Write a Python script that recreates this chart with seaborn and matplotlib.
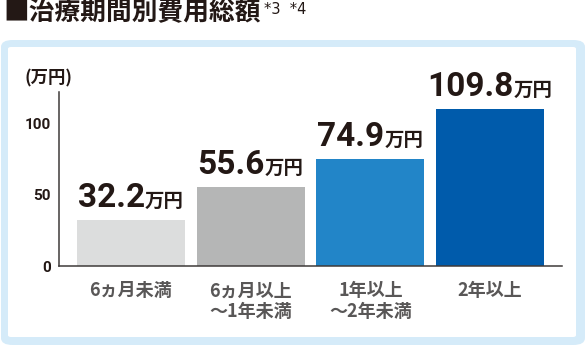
import matplotlib
matplotlib.use("Agg")
import matplotlib.pyplot as plt
import matplotlib.patches as mpatches
import matplotlib.transforms as mtransforms
import seaborn as sns
import pandas as pd

# --- data -------------------------------------------------------------
categories = ["6ヵ月未満", "6ヵ月以上\n～1年未満", "1年以上\n～2年未満", "2年以上"]
costs = [32.2, 55.6, 74.9, 109.8]          # 万円
bar_colors = ["#dcdddd", "#b5b6b6", "#2285c8", "#005bab"]
y_ticks = [0, 50, 100]
title_text = "■治療期間別費用総額"
title_note = "*3  *4"
unit_axis = "(万円)"
unit_value = "万円"

sns.set_theme(style="white")
plt.rcParams["font.family"] = ["Noto Sans CJK JP", "DejaVu Sans"]

DARK = "#231815"
GREY = "#595757"
FRAME = "#d5ebf9"

W, H = 586, 346
fig = plt.figure(figsize=(W / 100, H / 100), dpi=100)
fig.patch.set_facecolor("white")

# rounded light-blue frame with white inner panel (behind the axes)
outer = mpatches.FancyBboxPatch((1 / W, 1 - 345 / H), 584 / W, 305 / H,
                                boxstyle="round,pad=0,rounding_size=0.02",
                                transform=fig.transFigure, facecolor=FRAME,
                                edgecolor="none", zorder=-10)
inner = mpatches.FancyBboxPatch((8 / W, 1 - 337 / H), 568 / W, 290 / H,
                                boxstyle="round,pad=0,rounding_size=0.005",
                                transform=fig.transFigure, facecolor="white",
                                edgecolor="none", zorder=-9)
fig.patches.extend([outer, inner])

# title
t = fig.text(3 / W, 1 - 13 / H, title_text, fontsize=18.5, fontweight="bold",
             color=DARK, va="center", ha="left")
fig.canvas.draw()
r = fig.canvas.get_renderer()
bb = t.get_window_extent(r)
fig.text((bb.x1 + 4) / W, 1 - 9 / H, title_note, fontsize=10.5, color=DARK,
         va="center", ha="left", family=["DejaVu Sans"])

# axes
ax = fig.add_axes([59 / W, 80 / H, 503 / W, 174 / H])
ax.set_zorder(1)
ax.set_facecolor("none")
df = pd.DataFrame({"category": categories, "cost": costs})
sns.barplot(data=df, x="category", y="cost", hue="category",
            palette=bar_colors, legend=False, width=0.9, ax=ax,
            saturation=1, edgecolor="none")

ax.set_xlim(-0.6, len(categories) - 0.4)
ax.set_ylim(0, 121.7)
ax.set_yticks(y_ticks)
ax.set_yticklabels([str(v) for v in y_ticks], fontsize=11, fontweight="bold",
                   color=DARK, family=["Roboto", "DejaVu Sans"])
ax.tick_params(axis="y", length=0, pad=6)
ax.tick_params(axis="x", length=0, pad=11)
for lab in ax.get_xticklabels():
    lab.set_fontsize(13)
    lab.set_color(GREY)
    lab.set_fontweight("bold")
    lab.set_linespacing(1.1)
ax.set_xlabel("")
ax.set_ylabel("")
for s in ["top", "right"]:
    ax.spines[s].set_visible(False)
for s in ["left", "bottom"]:
    ax.spines[s].set_color("#3e3a39")
    ax.spines[s].set_linewidth(1.1)

fig.text(24 / W, 1 - 78 / H, unit_axis, fontsize=12.5, fontweight="bold",
         color=DARK, va="center", ha="left")

# value labels: big number plus smaller unit, centred over each bar
fig.canvas.draw()
r = fig.canvas.get_renderer()
for i, v in enumerate(costs):
    num = ax.text(i, v, f"{v:.1f}", fontsize=24, fontweight="bold", color=DARK,
                  family=["Roboto", "DejaVu Sans"], ha="left", va="baseline")
    unit = ax.text(i, v, unit_value, fontsize=14, fontweight="bold", color=DARK,
                   ha="left", va="baseline")
    wn = num.get_window_extent(r).width
    wu = unit.get_window_extent(r).width
    gap = 0
    total = wn + gap + wu
    num.set_transform(mtransforms.offset_copy(ax.transData, fig=fig,
                                              x=-total / 2, y=13, units="dots"))
    unit.set_transform(mtransforms.offset_copy(ax.transData, fig=fig,
                                               x=-total / 2 + wn + gap, y=13,
                                               units="dots"))

fig.savefig("out.png", dpi=100, facecolor=fig.get_facecolor())
